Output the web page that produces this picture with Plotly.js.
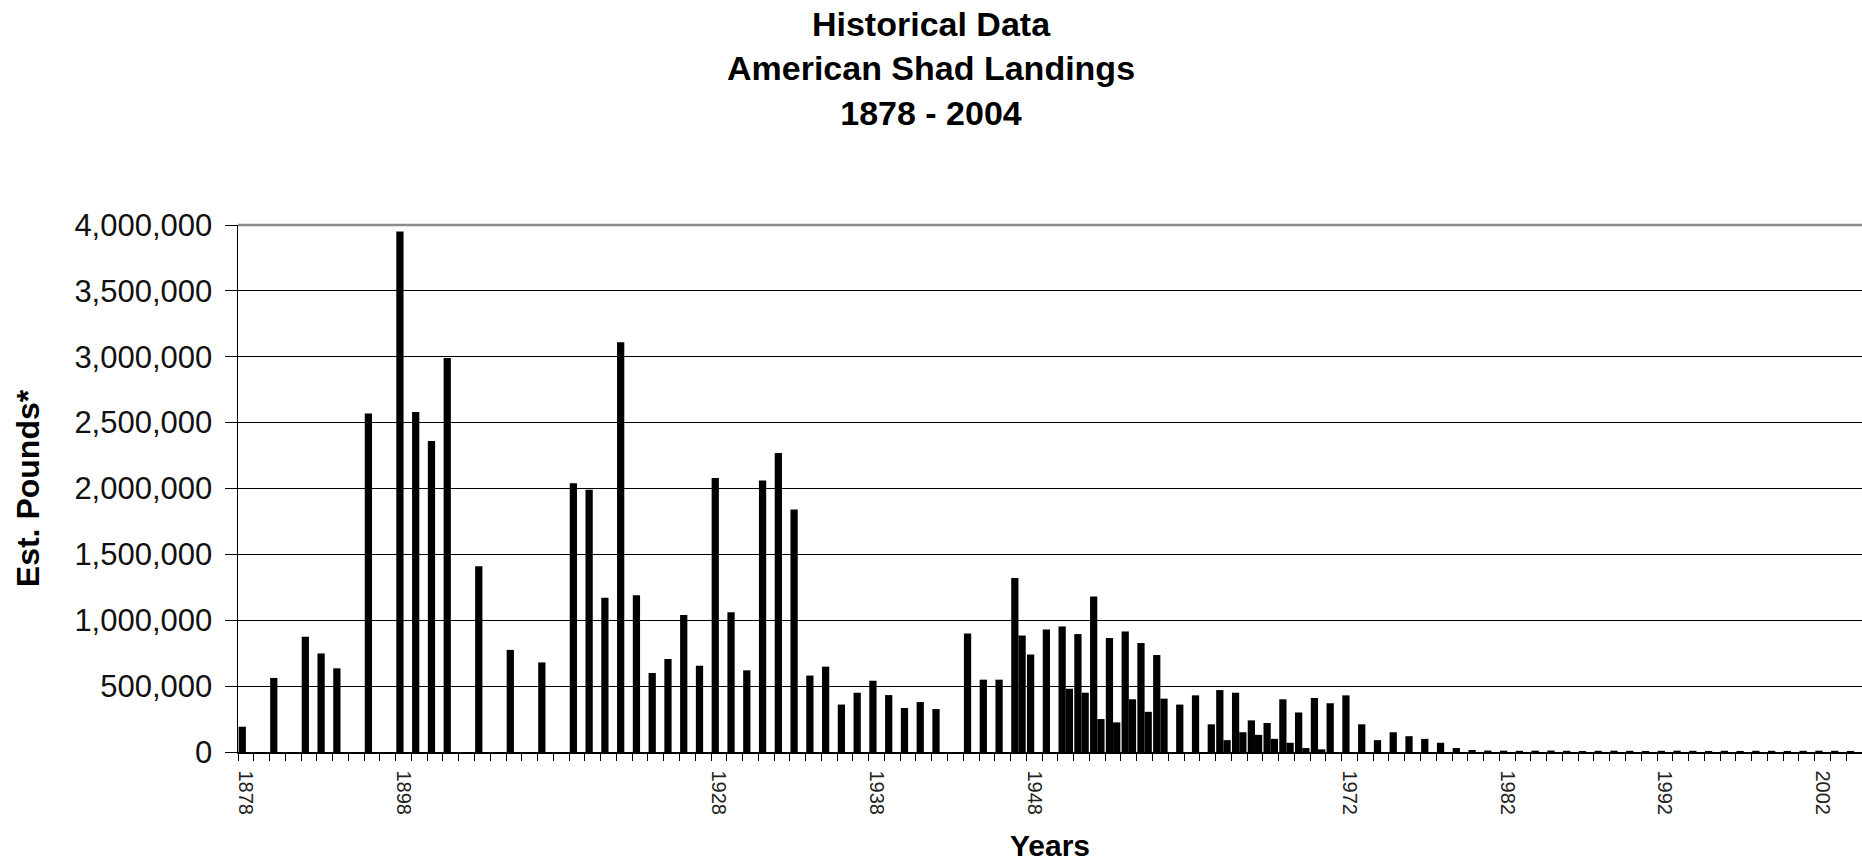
<!DOCTYPE html>
<html>
<head>
<meta charset="utf-8">
<script src="https://cdn.plot.ly/plotly-3.0.1.min.js"></script>
<style>html,body{margin:0;padding:0;background:#fff;}#chart{width:1862px;height:862px;}</style>
</head>
<body>
<div id="chart"></div>
<script>
// Category years (one bar slot per year listed)
const years = [
  1878, 1879, 1880, 1882, 1887, 1888, 1889, 1890, 1891, 1896,
  1898, 1899, 1900, 1901, 1902, 1904, 1905, 1908, 1909, 1912,
  1915, 1917, 1918, 1919, 1920, 1921, 1922, 1923, 1924, 1925,
  1928, 1929, 1930, 1931, 1932, 1933, 1934, 1935, 1936, 1937,
  1938, 1939, 1940, 1941, 1942, 1943, 1944, 1945, 1946, 1947,
  1948, 1949, 1950, 1951, 1952, 1953, 1954, 1955, 1956, 1957,
  1958, 1959, 1960, 1962, 1964, 1966, 1968, 1969, 1970, 1971,
  1972, 1973, 1974, 1975, 1976, 1977, 1978, 1979, 1980, 1981,
  1982, 1983, 1984, 1985, 1986, 1987, 1988, 1989, 1990, 1991,
  1992, 1993, 1994, 1995, 1996, 1997, 1998, 1999, 2000, 2001,
  2002, 2003, 2004
];

// Main landings series (left bar in each slot)
const landingsA = [
  192000, null, 562000, null, 875000, 748000, 635000, null, 2570000, null,
  3950000, 2580000, 2360000, 2990000, null, 1410000, null, 775000, null, 680000,
  null, 2040000, 1990000, 1170000, 3110000, 1190000, 600000, 706000, 1040000, 655000,
  2080000, 1060000, 620000, 2060000, 2270000, 1840000, 580000, 648000, 360000, 450000,
  541000, 432000, 334000, 379000, 326000, null, 900000, 549000, 549000, 1320000,
  740000, 930000, 953000, 895000, 1180000, 865000, 915000, 827000, 736000, null,
  null, null, 470000, 450000, 240000, 220000, 400000, 300000, 410000, 370000,
  430000, 210000, 90000, 150000, 120000, 100000, 70000, 30000, 15000, 11000,
  10000, 9000, 10000, 11000, 9000, 8000, 9000, 10000, 9000, 8000,
  9000, 10000, 9000, 8000, 9000, 8000, 9000, 9000, 8000, 9000,
  10000, 9000, 8000
];

// Second series (right bar in each slot)
const landingsB = [
  null, null, null, null, null, null, null, null, null, null,
  null, null, null, null, null, null, null, null, null, null,
  null, null, null, null, null, null, null, null, null, null,
  null, null, null, null, null, null, null, null, null, null,
  null, null, null, null, null, null, null, null, null, 884000,
  null, null, 480000, 450000, 250000, 225000, 400000, 305000, 405000, 360000,
  430000, 210000, 90000, 150000, 130000, 100000, 70000, 30000, 20000, null,
  null, null, null, null, null, null, null, null, null, null,
  null, null, null, null, null, null, null, null, null, null,
  null, null, null, null, null, null, null, null, null, null,
  null, null, null
];

// Years whose label is printed on the x axis
const labelYears = [1878, 1898, 1928, 1938, 1948, 1972, 1982, 1992, 2002];

const slots = years.map((_, i) => i);
const FONT = '"Liberation Sans", Arial, sans-serif';

const traces = [
  { type: 'bar', name: 'Landings', x: slots, y: landingsA, marker: { color: '#000' },
    customdata: years, hovertemplate: '%{customdata}: %{y:,}<extra></extra>' },
  { type: 'bar', name: 'Landings (2)', x: slots, y: landingsB, marker: { color: '#000' },
    customdata: years, hovertemplate: '%{customdata}: %{y:,}<extra></extra>' }
];

const layout = {
  width: 1862, height: 862,
  margin: { l: 238, r: 0, t: 225, b: 110 },
  paper_bgcolor: '#fff', plot_bgcolor: '#fff',
  font: { family: FONT, color: '#000' },
  showlegend: false,
  barmode: 'group', bargap: 0.08, bargroupgap: 0,
  title: {
    text: '<b>Historical Data<br>American Shad Landings<br>1878 - 2004</b>',
    font: { family: FONT, size: 34, color: '#000' },
    x: 0.5, xref: 'container', xanchor: 'center',
    y: 0.958, yref: 'container', yanchor: 'top'
  },
  xaxis: {
    range: [-0.5, years.length - 0.5],
    tickmode: 'array',
    tickvals: labelYears.map(y => years.indexOf(y)),
    ticktext: labelYears.map(String),
    tickangle: 90,
    ticks: '',
    ticklabelstandoff: 13,
    tickfont: { family: FONT, size: 20, color: '#222' },
    showgrid: false, zeroline: false,
    showline: true, linecolor: '#000', linewidth: 1.5,
    minor: { tickmode: 'linear', tick0: -0.5, dtick: 1, ticks: 'outside', ticklen: 7, tickwidth: 1, tickcolor: '#000', showgrid: false },
    title: { text: '<b>Years</b>', font: { family: FONT, size: 30, color: '#000' }, standoff: 22 }
  },
  yaxis: {
    range: [0, 4000000],
    tickmode: 'linear', tick0: 0, dtick: 500000,
    tickformat: ',d',
    ticks: 'outside', ticklen: 12, tickwidth: 1, tickcolor: '#000',
    ticklabelstandoff: 6,
    tickfont: { family: FONT, size: 31, color: '#111' },
    showline: true, linecolor: '#000', linewidth: 1.5,
    showgrid: true, gridcolor: '#000', gridwidth: 1.2,
    zeroline: false,
    title: { text: '<b>Est. Pounds*</b>', font: { family: FONT, size: 32, color: '#000' }, standoff: 25 }
  },
  shapes: [
    { type: 'line', xref: 'paper', yref: 'paper', x0: 0, x1: 1, y0: 1, y1: 1,
      line: { color: '#8c8c8c', width: 2.5 } }
  ]
};

Plotly.newPlot('chart', traces, layout, { displayModeBar: false, staticPlot: true });
</script>
</body>
</html>
